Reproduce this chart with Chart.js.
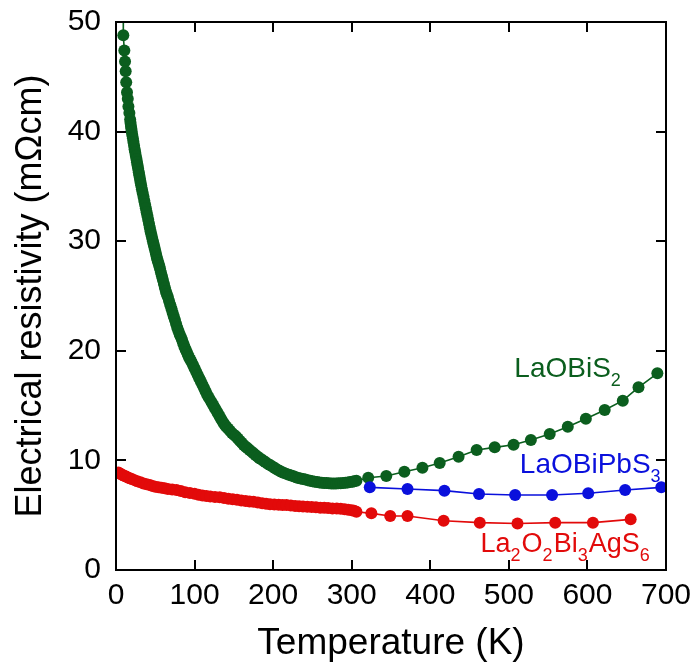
<!DOCTYPE html>
<html>
<head>
<meta charset="utf-8">
<script src="https://cdn.jsdelivr.net/npm/chart.js@4.4.1/dist/chart.umd.min.js"></script>
<style>
  html, body { margin: 0; padding: 0; background: #fff; }
  #wrap { width: 695px; height: 666px; }
</style>
</head>
<body>
<div id="wrap"><canvas id="c" width="695" height="666"></canvas></div>
<script>
// ---- Data ----
const xTicks = [0, 100, 200, 300, 400, 500, 600, 700];
const yTicks = [0, 10, 20, 30, 40, 50];

// LaOBiS2 (green)
const tempLaOBiS2 = [9.5, 9.3, 10.6, 11.5, 12.3, 13.0, 14.0, 15.0, 15.8, 17.0, 18, 18.5, 19, 19.5, 20, 20.7, 21.5, 22.2, 23, 23.7, 24.5, 25.2, 26, 26.7, 27.5, 28.2, 29, 29.7, 30.5, 31.2, 32, 33, 34, 35, 36, 37, 38, 39, 40, 41, 42, 43, 44, 45, 46, 47, 48, 49, 50, 51, 52, 53, 54, 55, 56, 57.2, 58.5, 59.7, 61, 62.2, 63.5, 64.7, 66, 67.5, 69, 70.5, 72, 73.5, 75, 76.5, 78, 79.5, 81, 82.5, 84, 85.5, 87, 88.5, 90, 91.5, 93, 94.5, 96, 98, 100, 102, 104, 106, 108, 110, 112, 114, 116, 118, 120, 122, 124, 126, 128, 130, 132, 134, 136, 138, 140, 142.5, 145, 147.5, 150, 152.5, 155, 157.5, 160, 162.5, 165, 167.5, 170, 172.5, 175, 177.5, 180, 182.5, 185, 187.5, 190, 193, 196, 199, 202, 205, 208, 211, 214, 217, 220, 223, 226, 229, 232, 235, 238, 241, 244, 247, 250, 253, 256, 259, 262, 265, 268, 271, 274, 277, 280, 283, 286, 289, 292, 295, 298, 301, 303, 306,
  321, 344, 367, 390, 412, 436, 459, 482, 506, 528, 552, 575, 598, 622, 645, 665, 689];
const rhoLaOBiS2 = [53, 48.8, 47.4, 46.4, 45.5, 44.5, 43.6, 43.0, 42.3, 41.7, 41.1, 40.8, 40.5, 40.25, 40.0, 39.7, 39.4, 39.05, 38.7, 38.4, 38.1, 37.8, 37.5, 37.2, 36.9, 36.6, 36.3, 36.0, 35.7, 35.4, 35.1, 34.75, 34.4, 34.05, 33.7, 33.35, 33.0, 32.65, 32.3, 31.95, 31.6, 31.25, 30.9, 30.6, 30.3, 30.0, 29.7, 29.4, 29.1, 28.8, 28.5, 28.25, 28.0, 27.75, 27.5, 27.15, 26.8, 26.45, 26.1, 25.75, 25.4, 25.15, 24.9, 24.55, 24.2, 23.85, 23.5, 23.15, 22.8, 22.45, 22.1, 21.8, 21.5, 21.25, 21.0, 20.7, 20.4, 20.15, 19.9, 19.65, 19.4, 19.2, 19.0, 18.7, 18.4, 18.1, 17.8, 17.5, 17.2, 16.9, 16.6, 16.3, 16.0, 15.75, 15.5, 15.25, 15.0, 14.75, 14.5, 14.25, 14.0, 13.75, 13.5, 13.3, 13.1, 12.9, 12.7, 12.5, 12.35, 12.2, 12.0, 11.8, 11.6, 11.4, 11.25, 11.1, 10.95, 10.8, 10.65, 10.5, 10.35, 10.2, 10.1, 9.97, 9.85, 9.7, 9.58, 9.45, 9.3, 9.17, 9.05, 8.95, 8.85, 8.77, 8.7, 8.62, 8.55, 8.47, 8.4, 8.35, 8.3, 8.25, 8.2, 8.15, 8.1, 8.06, 8.02, 7.99, 7.96, 7.94, 7.93, 7.91, 7.9, 7.9, 7.9, 7.91, 7.92, 7.94, 7.96, 7.99, 8.02, 8.06, 8.1, 8.15,
  8.42, 8.58, 8.97, 9.33, 9.76, 10.34, 10.95, 11.19, 11.43, 11.86, 12.41, 13.08, 13.8, 14.6, 15.45, 16.67, 17.95];

// LaOBiPbS3 (blue)
const tempLaOBiPbS3 = [323, 371, 418, 462, 508, 555, 601, 648, 694];
const rhoLaOBiPbS3 = [7.54, 7.39, 7.24, 6.93, 6.84, 6.84, 7.0, 7.3, 7.54];

// La2O2Bi3AgS6 (red)
const tempLa2O2Bi3AgS6 = [3, 5, 7, 9, 11, 13, 15, 17.5, 20, 23.5, 27, 31, 35, 39, 43, 46.5, 50, 54, 58, 62, 66, 71.5, 77, 82.5, 88, 94, 100, 105, 110, 115, 120, 126, 132, 137.5, 143, 148.5, 154, 159.5, 165, 170, 175, 180.5, 186, 191, 196, 201.5, 207, 212, 217, 222.5, 228, 233, 238, 243.5, 249, 254.5, 260, 265, 270, 275.5, 281, 286, 291, 295.5, 300, 303, 306,
  325, 349, 371, 417, 463, 511, 559, 607, 655];
const rhoLa2O2Bi3AgS6 = [8.9, 8.8, 8.72, 8.65, 8.58, 8.52, 8.45, 8.38, 8.3, 8.2, 8.1, 8.0, 7.9, 7.82, 7.75, 7.67, 7.6, 7.55, 7.5, 7.45, 7.4, 7.35, 7.3, 7.2, 7.1, 7.02, 6.95, 6.87, 6.8, 6.75, 6.7, 6.67, 6.63, 6.56, 6.5, 6.45, 6.4, 6.35, 6.3, 6.26, 6.22, 6.15, 6.1, 6.05, 6.0, 5.97, 5.95, 5.94, 5.92, 5.88, 5.85, 5.82, 5.8, 5.77, 5.75, 5.72, 5.69, 5.67, 5.65, 5.62, 5.6, 5.58, 5.55, 5.5, 5.45, 5.4, 5.32,
  5.17, 4.93, 4.93, 4.5, 4.32, 4.24, 4.32, 4.32, 4.62];

const GREEN = '#0b5e1e';
const BLUE = '#0a10dc';
const RED = '#e20a0a';

function pts(xs, ys) { return xs.map((x, i) => ({ x: x, y: ys[i] })); }

// Series labels (anchored in data units)
const seriesLabels = [
  { color: GREEN, T: 507, rho: 17.6, size: 28, parts: [['LaOBiS', 0], ['2', 1]] },
  { color: BLUE, T: 514, rho: 8.82, size: 28, parts: [['LaOBiPbS', 0], ['3', 1]] },
  { color: RED, T: 464, rho: 1.67, size: 27, parts: [['La', 0], ['2', 1], ['O', 0], ['2', 1], ['Bi', 0], ['3', 1], ['AgS', 0], ['6', 1]] }
];

const FONT = '"Liberation Sans", Arial, sans-serif';

const framePlugin = {
  id: 'frame',
  afterDraw(chart) {
    const ctx = chart.ctx;
    const a = chart.chartArea;
    const xs = chart.scales.x, ys = chart.scales.y;
    ctx.save();
    ctx.strokeStyle = '#000';
    ctx.lineWidth = 2;
    ctx.strokeRect(a.left, a.top, a.right - a.left, a.bottom - a.top);
    const L = 10;
    ctx.beginPath();
    xTicks.forEach(v => {
      const px = Math.round(xs.getPixelForValue(v));
      if (v === xTicks[0] || v === xTicks[xTicks.length - 1]) return;
      ctx.moveTo(px, a.bottom); ctx.lineTo(px, a.bottom - L);
      ctx.moveTo(px, a.top); ctx.lineTo(px, a.top + L);
    });
    yTicks.forEach(v => {
      const py = Math.round(ys.getPixelForValue(v));
      if (v === yTicks[0] || v === yTicks[yTicks.length - 1]) return;
      ctx.moveTo(a.left, py); ctx.lineTo(a.left + L, py);
      ctx.moveTo(a.right, py); ctx.lineTo(a.right - L, py);
    });
    ctx.stroke();

    // series labels with subscripts
    ctx.textBaseline = 'alphabetic';
    ctx.textAlign = 'left';
    seriesLabels.forEach(lab => {
      let x = xs.getPixelForValue(lab.T);
      const y = ys.getPixelForValue(lab.rho);
      ctx.fillStyle = lab.color;
      lab.parts.forEach(([t, sub]) => {
        ctx.font = sub ? ('18px ' + FONT) : (lab.size + 'px ' + FONT);
        ctx.fillText(t, x, sub ? y + 9 : y);
        x += ctx.measureText(t).width + (sub ? 1 : 0);
      });
    });
    ctx.restore();
  }
};

const common = { showLine: true, borderWidth: 1.6, pointRadius: 6, pointHoverRadius: 6, pointBorderWidth: 0, tension: 0 };

new Chart(document.getElementById('c'), {
  type: 'scatter',
  data: {
    datasets: [
      Object.assign({ label: 'LaOBiPbS3', data: pts(tempLaOBiPbS3, rhoLaOBiPbS3), borderColor: BLUE, backgroundColor: BLUE, pointBackgroundColor: BLUE }, common),
      Object.assign({ label: 'La2O2Bi3AgS6', data: pts(tempLa2O2Bi3AgS6, rhoLa2O2Bi3AgS6), borderColor: RED, backgroundColor: RED, pointBackgroundColor: RED }, common),
      Object.assign({ label: 'LaOBiS2', data: pts(tempLaOBiS2, rhoLaOBiS2), borderColor: GREEN, backgroundColor: GREEN, pointBackgroundColor: GREEN }, common)
    ]
  },
  options: {
    responsive: false,
    animation: false,
    events: [],
    layout: { padding: { top: 22, right: 29, left: 0, bottom: 0 } },
    plugins: { legend: { display: false }, tooltip: { enabled: false } },
    scales: {
      x: {
        type: 'linear', min: 0, max: 700,
        afterBuildTicks(s) { s.ticks = xTicks.map(v => ({ value: v })); },
        afterFit(s) { s.height = 96; s.paddingLeft = 0; s.paddingRight = 0; },
        grid: { display: false, drawTicks: false },
        border: { display: false },
        ticks: { color: '#000', font: { family: FONT, size: 30 }, padding: 8, maxRotation: 0, autoSkip: false },
        title: { display: true, text: 'Temperature (K)', color: '#000', font: { family: FONT, size: 37 }, padding: { top: 4, bottom: 0 } }
      },
      y: {
        type: 'linear', min: 0, max: 50,
        afterBuildTicks(s) { s.ticks = yTicks.map(v => ({ value: v })); },
        afterFit(s) { s.width = 116; s.paddingTop = 0; s.paddingBottom = 0; },
        grid: { display: false, drawTicks: false },
        border: { display: false },
        ticks: { color: '#000', font: { family: FONT, size: 30 }, padding: 15 },
        title: { display: true, text: 'Electrical resistivity (mΩcm)', color: '#000', font: { family: FONT, size: 36 }, padding: { top: 9, bottom: 0 } }
      }
    }
  },
  plugins: [framePlugin]
});
</script>
</body>
</html>
